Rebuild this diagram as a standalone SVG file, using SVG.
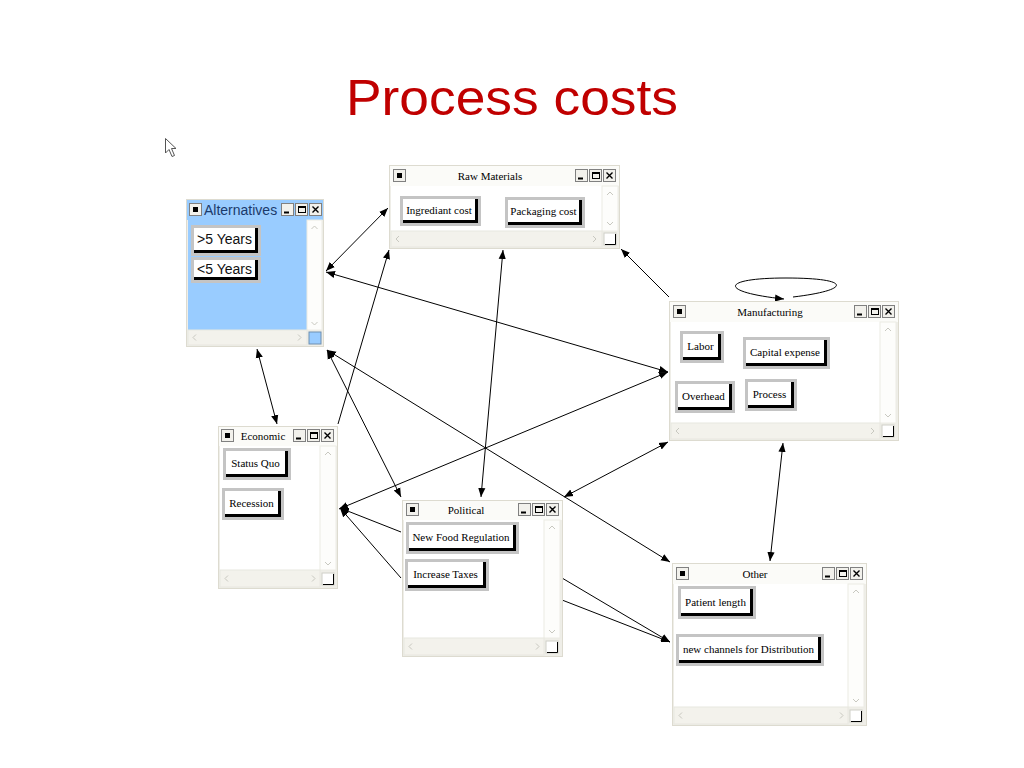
<svg xmlns="http://www.w3.org/2000/svg" xmlns:xlink="http://www.w3.org/1999/xlink" width="1024" height="768" viewBox="0 0 1024 768">
<style>
.frame{fill:#EFEEE8;stroke:#DDDBD0;stroke-width:1}
.tbar{fill:#FBFBF8}
.content{fill:#FFFFFF}
.vs{fill:#FDFDFB;stroke:#ECEBE4}
.hs{fill:#F3F2EC;stroke:#E8E7E0}
.ttl{font-family:"Liberation Serif","Times New Roman",serif;font-size:11px;fill:#000;text-anchor:middle}
.btxt{font-family:"Liberation Serif","Times New Roman",serif;font-size:11px;fill:#000;text-anchor:middle}
.stxt{font-family:"Liberation Sans",Arial,sans-serif;font-size:14px;fill:#111;text-anchor:middle}
.bf{fill:#C4C4C4}
.bs{fill:#000}
.bw{fill:#FFFFFF}
.conn{stroke:#000;stroke-width:1;fill:none}
.glyph{stroke:#C8C8C0;stroke-width:1;fill:none}
</style>
<defs>
<marker id="ah" viewBox="0 0 10 10" refX="10" refY="5" markerWidth="9" markerHeight="9" markerUnits="userSpaceOnUse" orient="auto-start-reverse">
<path d="M0,1 L10,5 L0,9 Z" fill="#000"/>
</marker>
<g id="sys">
<rect x="0.5" y="0.5" width="12" height="12" fill="#F2F1EC" stroke="#808080"/>
<rect x="4" y="4" width="5" height="5" fill="#000"/>
</g>
<g id="ctl">
<rect x="0.5" y="0.5" width="12" height="12" fill="#F2F1EC" stroke="#808080"/>
<line x1="3" y1="9.5" x2="8" y2="9.5" stroke="#000" stroke-width="2"/>
<rect x="14.5" y="0.5" width="12" height="12" fill="#F2F1EC" stroke="#808080"/>
<rect x="17.5" y="3.5" width="7" height="6" fill="none" stroke="#000"/>
<line x1="17.5" y1="4" x2="24.5" y2="4" stroke="#000" stroke-width="2"/>
<rect x="28.5" y="0.5" width="12" height="12" fill="#F2F1EC" stroke="#808080"/>
<path d="M31.5,3.5 L37.5,9.5 M37.5,3.5 L31.5,9.5" stroke="#000" stroke-width="1.4"/>
</g>
<g id="up"><polyline class="glyph" points="-3,2 0,-1 3,2"/></g>
<g id="dn"><polyline class="glyph" points="-3,-1 0,2 3,-1"/></g>
<g id="lt"><polyline class="glyph" points="2,-3 -1,0 2,3"/></g>
<g id="rt"><polyline class="glyph" points="-1,-3 2,0 -1,3"/></g>
<g id="corner">
<rect x="0" y="0" width="12" height="12" fill="#FFFFFF" stroke="#D0D0C8"/>
<path d="M1,11.5 L11.5,11.5 L11.5,1" stroke="#000" fill="none"/>
</g>
</defs>

<rect width="1024" height="768" fill="#FFFFFF"/>

<text x="512" y="115" text-anchor="middle" font-family="Liberation Sans, Arial, sans-serif" font-size="50" fill="#C00000" textLength="332" lengthAdjust="spacingAndGlyphs">Process costs</text>

<polygon points="165.5,138.5 165.5,153 169,149.5 172,156.5 174.5,155.5 171.5,148.5 176,148.5 Z" fill="#FFFFFF" stroke="#555" stroke-width="1"/>

<g id="connectors">
<line class="conn" x1="326" y1="271" x2="388" y2="208" marker-start="url(#ah)" marker-end="url(#ah)"/>
<line class="conn" x1="326" y1="272" x2="668" y2="372" marker-start="url(#ah)" marker-end="url(#ah)"/>
<line class="conn" x1="257" y1="349" x2="277" y2="424" marker-start="url(#ah)" marker-end="url(#ah)"/>
<line class="conn" x1="327" y1="350" x2="401" y2="497" marker-start="url(#ah)" marker-end="url(#ah)"/>
<line class="conn" x1="327" y1="350" x2="670" y2="562" marker-start="url(#ah)" marker-end="url(#ah)"/>
<line class="conn" x1="338" y1="424" x2="389" y2="250" marker-end="url(#ah)"/>
<line class="conn" x1="503" y1="250" x2="481" y2="497" marker-start="url(#ah)" marker-end="url(#ah)"/>
<line class="conn" x1="669" y1="297" x2="621" y2="249" marker-end="url(#ah)"/>
<line class="conn" x1="668" y1="372" x2="339" y2="509" marker-start="url(#ah)" marker-end="url(#ah)"/>
<line class="conn" x1="564" y1="497" x2="668" y2="442" marker-start="url(#ah)" marker-end="url(#ah)"/>
<line class="conn" x1="783" y1="443" x2="770" y2="561" marker-start="url(#ah)" marker-end="url(#ah)"/>
<line class="conn" x1="401" y1="532" x2="340" y2="508" marker-end="url(#ah)"/>
<line class="conn" x1="401" y1="578" x2="340" y2="508" marker-end="url(#ah)"/>
<line class="conn" x1="562" y1="578" x2="670" y2="642" marker-end="url(#ah)"/>
<line class="conn" x1="562" y1="600" x2="670" y2="642" marker-end="url(#ah)"/>
<path class="conn" d="M793,297 C852,290 852,278 786,278 C720,278 718,292 784,299" marker-end="url(#ah)"/>
</g>

<g id="alternatives" transform="translate(186,199)">
<rect class="frame" x="0.5" y="0.5" width="137" height="147"/>
<rect x="1" y="1" width="136" height="20" fill="#99CCFF"/>
<use xlink:href="#sys" x="3" y="4"/>
<text x="18" y="16" font-family="Liberation Sans, Arial, sans-serif" font-size="14" fill="#1B3A6B">Alternatives</text>
<use xlink:href="#ctl" x="95" y="4"/>
<rect x="2" y="21" width="119" height="110" fill="#99CCFF"/>
<rect class="vs" x="121" y="21" width="15" height="110"/>
<use xlink:href="#up" x="128.5" y="28"/>
<use xlink:href="#dn" x="128.5" y="124"/>
<rect class="hs" x="2" y="131" width="119" height="15"/>
<use xlink:href="#lt" x="8" y="138.5"/>
<use xlink:href="#rt" x="113" y="138.5"/>
<rect x="123" y="133" width="12" height="12" fill="#99CCFF" stroke="#6F8FB0"/>
<rect class="bf" x="5" y="26" width="70" height="31"/>
<rect class="bs" x="8" y="29" width="64" height="25"/>
<rect class="bw" x="8" y="29" width="61" height="22"/>
<text class="stxt" x="38.5" y="45">&gt;5 Years</text>
<rect class="bf" x="5" y="58" width="70" height="26"/>
<rect class="bs" x="8" y="61" width="64" height="20"/>
<rect class="bw" x="8" y="61" width="61" height="17"/>
<text class="stxt" x="38.5" y="74.5">&lt;5 Years</text>
</g>

<g id="raw-materials" transform="translate(389,165)">
<rect class="frame" x="0.5" y="0.5" width="230" height="83"/>
<rect class="tbar" x="1" y="1" width="229" height="20"/>
<use xlink:href="#sys" x="4" y="4"/>
<text class="ttl" x="101" y="15">Raw Materials</text>
<use xlink:href="#ctl" x="186" y="4"/>
<rect class="content" x="2" y="21" width="211" height="45"/>
<rect class="vs" x="213" y="21" width="16" height="45"/>
<use xlink:href="#up" x="221" y="28"/>
<use xlink:href="#dn" x="221" y="58"/>
<rect class="hs" x="2" y="66" width="211" height="16"/>
<use xlink:href="#lt" x="8" y="74"/>
<use xlink:href="#rt" x="205" y="74"/>
<use xlink:href="#corner" x="215" y="68"/>
<rect class="bf" x="11" y="31" width="81" height="30"/>
<rect class="bs" x="14" y="34" width="75" height="24"/>
<rect class="bw" x="14" y="34" width="72" height="21"/>
<text class="btxt" x="50" y="48.5">Ingrediant cost</text>
<rect class="bf" x="116" y="32" width="80" height="31"/>
<rect class="bs" x="119" y="35" width="74" height="25"/>
<rect class="bw" x="119" y="35" width="71" height="22"/>
<text class="btxt" x="154.5" y="50">Packaging cost</text>
</g>

<g id="manufacturing" transform="translate(669,301)">
<rect class="frame" x="0.5" y="0.5" width="229" height="139"/>
<rect class="tbar" x="1" y="1" width="228" height="20"/>
<use xlink:href="#sys" x="4" y="4"/>
<text class="ttl" x="101" y="15">Manufacturing</text>
<use xlink:href="#ctl" x="185" y="4"/>
<rect class="content" x="2" y="21" width="209" height="101"/>
<rect class="vs" x="211" y="21" width="16" height="101"/>
<use xlink:href="#up" x="219" y="28"/>
<use xlink:href="#dn" x="219" y="114"/>
<rect class="hs" x="2" y="122" width="209" height="16"/>
<use xlink:href="#lt" x="8" y="130"/>
<use xlink:href="#rt" x="203" y="130"/>
<use xlink:href="#corner" x="213" y="124"/>
<rect class="bf" x="11" y="30" width="44" height="32"/>
<rect class="bs" x="14" y="33" width="38" height="26"/>
<rect class="bw" x="14" y="33" width="35" height="23"/>
<text class="btxt" x="31.5" y="48.5">Labor</text>
<rect class="bf" x="74" y="36" width="87" height="32"/>
<rect class="bs" x="77" y="39" width="81" height="26"/>
<rect class="bw" x="77" y="39" width="78" height="23"/>
<text class="btxt" x="116" y="54.5">Capital expense</text>
<rect class="bf" x="6" y="80" width="60" height="32"/>
<rect class="bs" x="9" y="83" width="54" height="26"/>
<rect class="bw" x="9" y="83" width="51" height="23"/>
<text class="btxt" x="34.5" y="98.5">Overhead</text>
<rect class="bf" x="76" y="78" width="52" height="32"/>
<rect class="bs" x="79" y="81" width="46" height="26"/>
<rect class="bw" x="79" y="81" width="43" height="23"/>
<text class="btxt" x="100.5" y="96.5">Process</text>
</g>

<g id="economic" transform="translate(218,426)">
<rect class="frame" x="0.5" y="0.5" width="119" height="162"/>
<rect class="tbar" x="1" y="1" width="118" height="19"/>
<use xlink:href="#sys" x="3" y="3"/>
<text class="ttl" x="45" y="14">Economic</text>
<use xlink:href="#ctl" x="75" y="3"/>
<rect class="content" x="2" y="20" width="100" height="124"/>
<rect class="vs" x="102" y="20" width="16" height="124"/>
<use xlink:href="#up" x="110" y="27"/>
<use xlink:href="#dn" x="110" y="137"/>
<rect class="hs" x="2" y="144" width="100" height="17"/>
<use xlink:href="#lt" x="8" y="152.5"/>
<use xlink:href="#rt" x="95" y="152.5"/>
<use xlink:href="#corner" x="104" y="147"/>
<rect class="bf" x="5" y="22" width="68" height="32"/>
<rect class="bs" x="8" y="25" width="62" height="26"/>
<rect class="bw" x="8" y="25" width="59" height="23"/>
<text class="btxt" x="37.5" y="40.5">Status Quo</text>
<rect class="bf" x="4" y="62" width="62" height="32"/>
<rect class="bs" x="7" y="65" width="56" height="26"/>
<rect class="bw" x="7" y="65" width="53" height="23"/>
<text class="btxt" x="33.5" y="80.5">Recession</text>
</g>

<g id="political" transform="translate(402,500)">
<rect class="frame" x="0.5" y="0.5" width="160" height="156"/>
<rect class="tbar" x="1" y="1" width="159" height="19"/>
<use xlink:href="#sys" x="4" y="3"/>
<text class="ttl" x="64" y="14">Political</text>
<use xlink:href="#ctl" x="116" y="3"/>
<rect class="content" x="2" y="20" width="140" height="118"/>
<rect class="vs" x="142" y="20" width="16" height="118"/>
<use xlink:href="#up" x="150" y="27"/>
<use xlink:href="#dn" x="150" y="131"/>
<rect class="hs" x="2" y="138" width="140" height="17"/>
<use xlink:href="#lt" x="8" y="146.5"/>
<use xlink:href="#rt" x="135" y="146.5"/>
<use xlink:href="#corner" x="144" y="141"/>
<rect class="bf" x="4" y="22" width="113" height="32"/>
<rect class="bs" x="7" y="25" width="107" height="26"/>
<rect class="bw" x="7" y="25" width="104" height="23"/>
<text class="btxt" x="59" y="40.5">New Food Regulation</text>
<rect class="bf" x="3" y="59" width="84" height="32"/>
<rect class="bs" x="6" y="62" width="78" height="26"/>
<rect class="bw" x="6" y="62" width="75" height="23"/>
<text class="btxt" x="43.5" y="77.5">Increase Taxes</text>
</g>

<g id="other" transform="translate(672,563)">
<rect class="frame" x="0.5" y="0.5" width="194" height="162"/>
<rect class="tbar" x="1" y="1" width="193" height="20"/>
<use xlink:href="#sys" x="4" y="4"/>
<text class="ttl" x="83" y="15">Other</text>
<use xlink:href="#ctl" x="150" y="4"/>
<rect class="content" x="2" y="21" width="174" height="123"/>
<rect class="vs" x="176" y="21" width="16" height="123"/>
<use xlink:href="#up" x="184" y="28"/>
<use xlink:href="#dn" x="184" y="137"/>
<rect class="hs" x="2" y="144" width="174" height="17"/>
<use xlink:href="#lt" x="8" y="152.5"/>
<use xlink:href="#rt" x="169" y="152.5"/>
<use xlink:href="#corner" x="178" y="147"/>
<rect class="bf" x="6" y="23" width="78" height="33"/>
<rect class="bs" x="9" y="26" width="72" height="27"/>
<rect class="bw" x="9" y="26" width="69" height="24"/>
<text class="btxt" x="43.5" y="42.5">Patient length</text>
<rect class="bf" x="4" y="71" width="148" height="32"/>
<rect class="bs" x="7" y="74" width="142" height="26"/>
<rect class="bw" x="7" y="74" width="139" height="23"/>
<text class="btxt" x="76.5" y="89.5">new channels for Distribution</text>
</g>
</svg>
